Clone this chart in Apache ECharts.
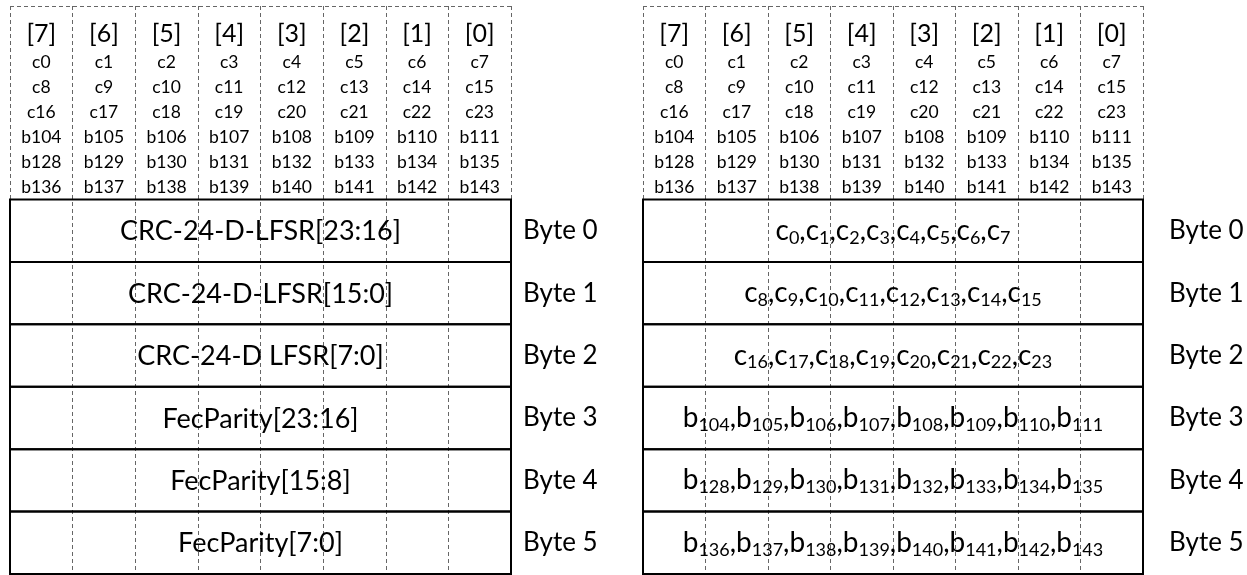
<!DOCTYPE html>
<html>
<head>
<meta charset="utf-8">
<script src="https://cdn.jsdelivr.net/npm/echarts@6/dist/echarts.min.js"></script>
<style>
html,body{margin:0;padding:0;background:#fff;}
#chart{width:1247px;height:575px;}
</style>
</head>
<body>
<div id="chart"></div>
<script>
// ---- data ----
const bitIndexLabels = ['[7]','[6]','[5]','[4]','[3]','[2]','[1]','[0]'];
const bitRows = [
  ['c0','c1','c2','c3','c4','c5','c6','c7'],
  ['c8','c9','c10','c11','c12','c13','c14','c15'],
  ['c16','c17','c18','c19','c20','c21','c22','c23'],
  ['b104','b105','b106','b107','b108','b109','b110','b111'],
  ['b128','b129','b130','b131','b132','b133','b134','b135'],
  ['b136','b137','b138','b139','b140','b141','b142','b143']
];
const byteLabels = ['Byte 0','Byte 1','Byte 2','Byte 3','Byte 4','Byte 5'];
const leftFields = ['CRC-24-D-LFSR[23:16]','CRC-24-D-LFSR[15:0]','CRC-24-D LFSR[7:0]','FecParity[23:16]','FecParity[15:8]','FecParity[7:0]'];
const rightFields = bitRows; // same bits, shown with subscripts

// ---- layout / style ----
const FONT = 'Lato';
const HEADER_UNITS = 3.1;
const DASH = {color:'#666666', width:1, type:[4,3]};

function richField(bits){
  return bits.map(t => {
    const m = t.match(/^([a-z]+)(\d+)$/);
    return '{m|' + m[1] + '}{s|' + m[2] + '}';
  }).join('{m|,}');
}

function headerSeries(gi){
  const items = [];
  const texts = [];
  for (let c = 0; c < 8; c++) {
    items.push([c + 0.5, -2.66]); texts.push({t: bitIndexLabels[c], big: true});
    for (let k = 0; k < bitRows.length; k++) {
      items.push([c + 0.5, -2.19 + 0.4 * k]); texts.push({t: bitRows[k][c], big: false});
    }
  }
  return {
    type:'custom', xAxisIndex: gi, yAxisIndex: gi, data: items, silent: true,
    renderItem: function(params, api){
      const p = api.coord([api.value(0), api.value(1)]);
      const it = texts[params.dataIndex];
      return {type:'text', style:{text: it.t, x: p[0], y: p[1], align:'center', verticalAlign:'middle',
        fill:'#000', font: (it.big ? '25px ' : '17.5px ') + FONT}};
    }
  };
}

function topLineSeries(gi){
  return {
    type:'custom', xAxisIndex: gi, yAxisIndex: gi, data: [[0]], silent: true,
    renderItem: function(params, api){
      const a = api.coord([0, -HEADER_UNITS]);
      const b = api.coord([8, -HEADER_UNITS]);
      return {type:'line', shape:{x1:a[0], y1:a[1]+0.5, x2:b[0], y2:b[1]+0.5},
        style:{stroke: DASH.color, lineWidth: 1, lineDash: DASH.type}};
    }
  };
}

function bodySeries(gi, labelOffset){
  return {
    type:'custom', xAxisIndex: gi, yAxisIndex: gi, silent: true,
    data: byteLabels.map((_, r) => [r]),
    renderItem: function(params, api){
      const r = params.dataIndex;
      const a = api.coord([0, r]);
      const b = api.coord([8, r + 1]);
      const cx = (a[0] + b[0]) / 2, cy = (a[1] + b[1]) / 2;
      const children = [
        {type:'rect', shape:{x:a[0], y:a[1], width:b[0]-a[0], height:b[1]-a[1]},
          style:{fill:'none', stroke:'#000', lineWidth:2}},
        {type:'text', style:{text: byteLabels[r], x: b[0] + labelOffset, y: cy, align:'left', verticalAlign:'middle',
          fill:'#000', font:'26px ' + FONT}}
      ];
      if (gi === 0) {
        children.push({type:'text', style:{text: leftFields[r], x: cx, y: cy + 1, align:'center', verticalAlign:'middle',
          fill:'#000', font:'27px ' + FONT}});
      } else {
        children.push({type:'text', style:{text: richField(rightFields[r]), x: cx, y: cy, align:'center', verticalAlign:'middle',
          fill:'#000',
          rich:{
            m:{fontSize:28, fontFamily:FONT, fill:'#000', verticalAlign:'middle', lineHeight:32},
            s:{fontSize:18, fontFamily:FONT, fill:'#000', verticalAlign:'middle', lineHeight:18, padding:[14,0,0,0]}
          }}});
      }
      return {type:'group', children: children};
    }
  };
}

const xAxisBase = {type:'value', min:0, max:8, interval:1,
  axisLine:{show:false}, axisTick:{show:false}, axisLabel:{show:false},
  splitLine:{show:true, lineStyle: DASH}};
const yAxisBase = {type:'value', inverse:true, min:-HEADER_UNITS, max:6,
  axisLine:{show:false}, axisTick:{show:false}, axisLabel:{show:false}, splitLine:{show:false}};

const chart = echarts.init(document.getElementById('chart'), null, {renderer:'canvas'});
chart.setOption({
  animation:false,
  backgroundColor:'#fff',
  grid:[
    {left:10, top:6, width:501, height:568},
    {left:643, top:6, width:500, height:568}
  ],
  xAxis:[Object.assign({gridIndex:0}, xAxisBase), Object.assign({gridIndex:1}, xAxisBase)],
  yAxis:[Object.assign({gridIndex:0}, yAxisBase), Object.assign({gridIndex:1}, yAxisBase)],
  series:[
    topLineSeries(0), topLineSeries(1),
    headerSeries(0), headerSeries(1),
    bodySeries(0, 12), bodySeries(1, 26)
  ]
});
</script>
</body>
</html>
